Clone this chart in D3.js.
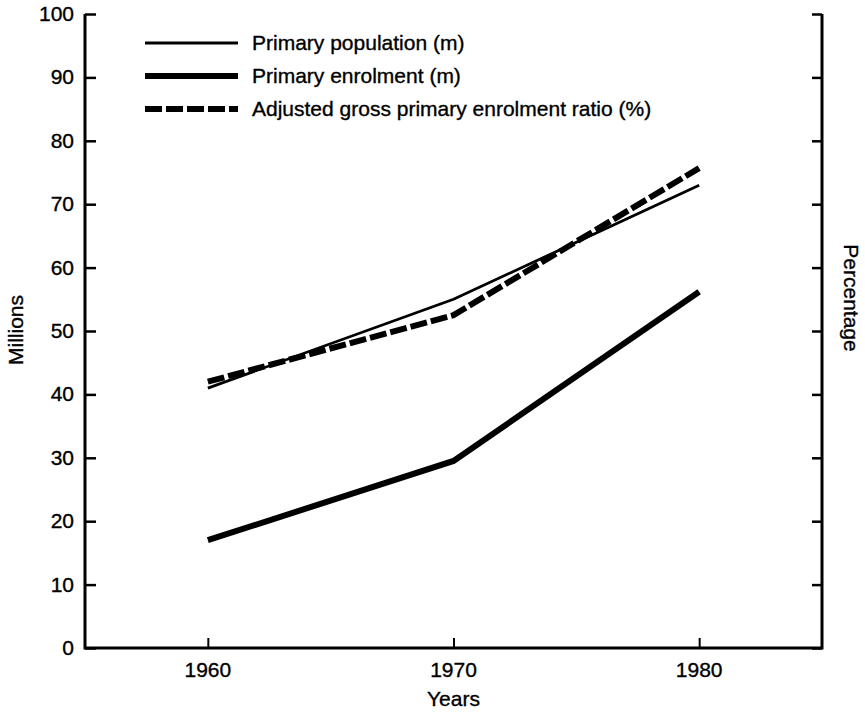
<!DOCTYPE html>
<html>
<head>
<meta charset="utf-8">
<script src="https://cdn.jsdelivr.net/npm/d3@7"></script>
<style>
  body { margin: 0; background: #fff; }
  text { font-family: "Liberation Sans", Arial, sans-serif; fill: #000; stroke: #000; stroke-width: 0.35px; }
</style>
</head>
<body>
<script>
// data
var years = [1960, 1970, 1980];
var population = [41, 55, 73];     // Primary population (m)
var enrolment = [17, 29.5, 56.2];  // Primary enrolment (m)
var ratio = [42, 52.5, 75.7];      // Adjusted gross primary enrolment ratio (%)
var yTicks = [0, 10, 20, 30, 40, 50, 60, 70, 80, 90, 100];
var legendLabels = ["Primary population (m)", "Primary enrolment (m)", "Adjusted gross primary enrolment ratio (%)"];

var width = 865, height = 712;
var margin = {top: 14, right: 43, bottom: 64, left: 85};
var fs = "21px";

var svg = d3.select("body").append("svg")
    .attr("width", width)
    .attr("height", height);

var x = d3.scaleLinear().domain([1955, 1985]).range([margin.left, width - margin.right]);
var y = d3.scaleLinear().domain([0, 100]).range([height - margin.bottom, margin.top]);

// left axis, ticks pointing inward
var left = svg.append("g")
    .attr("transform", "translate(" + margin.left + ",0)")
    .call(d3.axisRight(y).tickValues(yTicks).tickSize(11).tickFormat(""));
left.select(".domain").remove();
left.selectAll("line").attr("stroke", "#000").attr("stroke-width", 2.5);
yTicks.forEach(function(t) {
    svg.append("text")
        .attr("x", margin.left - 11)
        .attr("y", y(t) + 7)
        .attr("text-anchor", "end")
        .attr("font-size", fs)
        .text(t);
});

// right axis, no labels
var right = svg.append("g")
    .attr("transform", "translate(" + (width - margin.right) + ",0)")
    .call(d3.axisLeft(y).tickValues(yTicks).tickSize(10).tickFormat(""));
right.select(".domain").remove();
right.selectAll("line").attr("stroke", "#000").attr("stroke-width", 2.5);

// bottom axis, short upward ticks
var bottom = svg.append("g")
    .attr("transform", "translate(0," + y(0) + ")")
    .call(d3.axisTop(x).tickValues(years).tickSize(10).tickFormat(""));
bottom.select(".domain").remove();
bottom.selectAll("line").attr("stroke", "#000").attr("stroke-width", 2);
years.forEach(function(t) {
    svg.append("text")
        .attr("x", x(t))
        .attr("y", y(0) + 29)
        .attr("text-anchor", "middle")
        .attr("font-size", fs)
        .text(t);
});

// frame lines (left, bottom, right)
svg.append("path")
    .attr("d", "M" + margin.left + "," + y(100) + "V" + y(0) + "H" + (width - margin.right) + "V" + y(100))
    .attr("fill", "none")
    .attr("stroke", "#000")
    .attr("stroke-width", 3);

// axis titles
svg.append("text")
    .attr("transform", "translate(23," + 330 + ") rotate(-90)")
    .attr("text-anchor", "middle")
    .attr("font-size", fs)
    .text("Millions");
svg.append("text")
    .attr("transform", "translate(844," + 298 + ") rotate(90)")
    .attr("text-anchor", "middle")
    .attr("font-size", fs)
    .text("Percentage");
svg.append("text")
    .attr("x", x(1970))
    .attr("y", 706)
    .attr("text-anchor", "middle")
    .attr("font-size", fs)
    .text("Years");

// lines
var line = d3.line()
    .x(function(d, i) { return x(years[i]); })
    .y(function(d) { return y(d); });

var styles = [
    {data: population, w: 2.8, dash: null},
    {data: enrolment, w: 6, dash: null},
    {data: ratio, w: 6, dash: "17,4"}
];

styles.forEach(function(s) {
    svg.append("path")
        .attr("d", line(s.data))
        .attr("fill", "none")
        .attr("stroke", "#000")
        .attr("stroke-width", s.w)
        .attr("stroke-dasharray", s.dash);
});

// legend
var legend = svg.append("g");
styles.forEach(function(s, i) {
    var ly = 43 + i * 33;
    legend.append("line")
        .attr("x1", 145).attr("x2", 238)
        .attr("y1", ly).attr("y2", ly)
        .attr("stroke", "#000")
        .attr("stroke-width", s.w)
        .attr("stroke-dasharray", s.dash);
    legend.append("text")
        .attr("x", 252)
        .attr("y", ly + 7)
        .attr("font-size", fs)
        .text(legendLabels[i]);
});
</script>
</body>
</html>
